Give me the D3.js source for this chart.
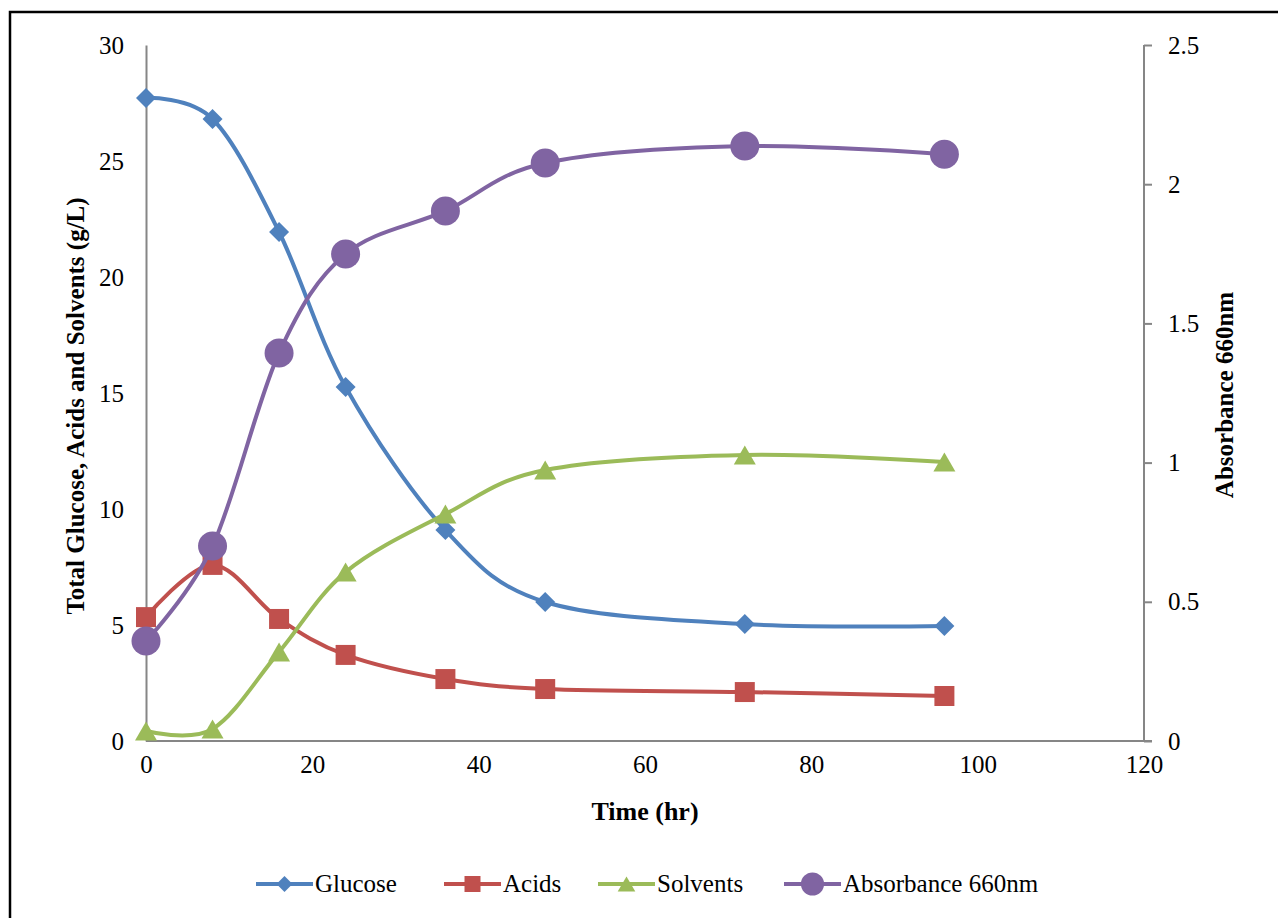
<!DOCTYPE html>
<html><head><meta charset="utf-8">
<script src="https://cdn.jsdelivr.net/npm/d3@7"></script>
<style>body{margin:0;background:#fff}svg{display:block}</style>
</head><body>
<svg id="c" width="1278" height="918"></svg>
<script>
const time = [0, 8, 16, 24, 36, 48, 72, 96];
const glucose = [27.72, 26.81, 21.94, 15.26, 9.09, 5.99, 5.04, 4.96];
const acids = [5.34, 7.59, 5.26, 3.71, 2.67, 2.24, 2.11, 1.94];
const solvents = [0.43, 0.52, 3.84, 7.28, 9.78, 11.68, 12.33, 12.03];
const absorbance = [0.359, 0.70, 1.394, 1.749, 1.904, 2.076, 2.137, 2.108];
const xTicks = [0, 20, 40, 60, 80, 100, 120];
const yLeftTicks = [0, 5, 10, 15, 20, 25, 30];
const yRightTicks = [0, 0.5, 1, 1.5, 2, 2.5];
const seriesNames = ["Glucose", "Acids", "Solvents", "Absorbance 660nm"];
const colors = ["#4F81BD", "#C0504D", "#9BBB59", "#8064A2"];

const svg = d3.select("#c");
const font = "'Liberation Serif','Times New Roman',serif";
const FS = 25;
const L = 146, R = 1144, T = 45, B = 741;
const x = d3.scaleLinear().domain([0, 120]).range([L, R]);
const yL = d3.scaleLinear().domain([0, 30]).range([B, T]);
const yR = d3.scaleLinear().domain([0, 2.5]).range([B, T]);

// border
svg.append("rect").attr("x", 10).attr("y", 12).attr("width", 1300).attr("height", 1000)
  .attr("fill", "none").attr("stroke", "#000").attr("stroke-width", 2.5);

const axisColor = "#868686";
// x axis
const gx = svg.append("g").attr("transform", `translate(0,${B})`)
  .call(d3.axisBottom(x).tickValues(xTicks).tickSize(0).tickPadding(14).tickFormat(d3.format("d")));
gx.select(".domain").attr("stroke", axisColor).attr("stroke-width", 2).attr("d", `M${L},0H${R + 8}`);
gx.selectAll("text").attr("font-family", font).attr("font-size", FS).attr("fill", "#000");

// left axis
const gl = svg.append("g").attr("transform", `translate(${L},0)`)
  .call(d3.axisLeft(yL).tickValues(yLeftTicks).tickSize(0).tickPadding(22).tickFormat(d3.format("d")));
gl.select(".domain").attr("stroke", axisColor).attr("stroke-width", 2);
gl.selectAll("text").attr("font-family", font).attr("font-size", FS).attr("fill", "#000");

// right axis
const gr = svg.append("g").attr("transform", `translate(${R},0)`)
  .call(d3.axisRight(yR).tickValues(yRightTicks).tickSize(8).tickPadding(16).tickFormat(d => d3.format("")(d)));
gr.select(".domain").attr("stroke", axisColor).attr("stroke-width", 2).attr("d", `M0,${B}V${T}`);
gr.selectAll(".tick line").attr("stroke", axisColor).attr("stroke-width", 2);
gr.selectAll("text").attr("font-family", font).attr("font-size", FS).attr("fill", "#000");

// titles
svg.append("text").attr("x", 645).attr("y", 820).attr("text-anchor", "middle")
  .attr("font-family", font).attr("font-weight", "bold").attr("font-size", 26).text("Time (hr)");
svg.append("text").attr("transform", "translate(84,406) rotate(-90)").attr("text-anchor", "middle")
  .attr("font-family", font).attr("font-weight", "bold").attr("font-size", FS)
  .text("Total Glucose, Acids and Solvents (g/L)");
svg.append("text").attr("transform", "translate(1233,395) rotate(-90)").attr("text-anchor", "middle")
  .attr("font-family", font).attr("font-weight", "bold").attr("font-size", FS)
  .text("Absorbance 660nm");

// marker shapes (k = scale)
const markers = [
  k => `M0,${-10*k}L${10*k},0L0,${10*k}L${-10*k},0Z`,
  k => `M${-10*k},${-10*k}H${10*k}V${10*k}H${-10*k}Z`,
  k => `M0,${-9.5*k}L${11*k},${9.5*k}H${-11*k}Z`,
  k => `M${-14.5*k},0A${14.5*k},${14.5*k},0,1,0,${14.5*k},0A${14.5*k},${14.5*k},0,1,0,${-14.5*k},0Z`,
];
const seriesData = [
  {vals: glucose, y: yL},
  {vals: acids, y: yL},
  {vals: solvents, y: yL},
  {vals: absorbance, y: yR},
];
const line = d3.line().curve(d3.curveCatmullRom.alpha(0));

seriesData.forEach((s, i) => {
  const pts = time.map((t, j) => [x(t), s.y(s.vals[j])]);
  svg.append("path").attr("d", line(pts)).attr("fill", "none")
    .attr("stroke", colors[i]).attr("stroke-width", 4).attr("stroke-linejoin", "round");
  svg.append("g").selectAll("path").data(pts).join("path")
    .attr("transform", d => `translate(${d[0]},${d[1]})`)
    .attr("d", markers[i](1)).attr("fill", colors[i]);
});

// legend
const legX = [256, 444, 598, 784];
const legY = 884;
seriesNames.forEach((n, i) => {
  const g = svg.append("g");
  g.append("line").attr("x1", legX[i]).attr("x2", legX[i] + 57).attr("y1", legY).attr("y2", legY)
    .attr("stroke", colors[i]).attr("stroke-width", 4);
  g.append("path").attr("transform", `translate(${legX[i] + 28.5},${legY})`)
    .attr("d", markers[i](0.8)).attr("fill", colors[i]);
  g.append("text").attr("x", legX[i] + 59).attr("y", legY + 8).attr("font-family", font)
    .attr("font-size", FS).text(n);
});
</script>
</body></html>
